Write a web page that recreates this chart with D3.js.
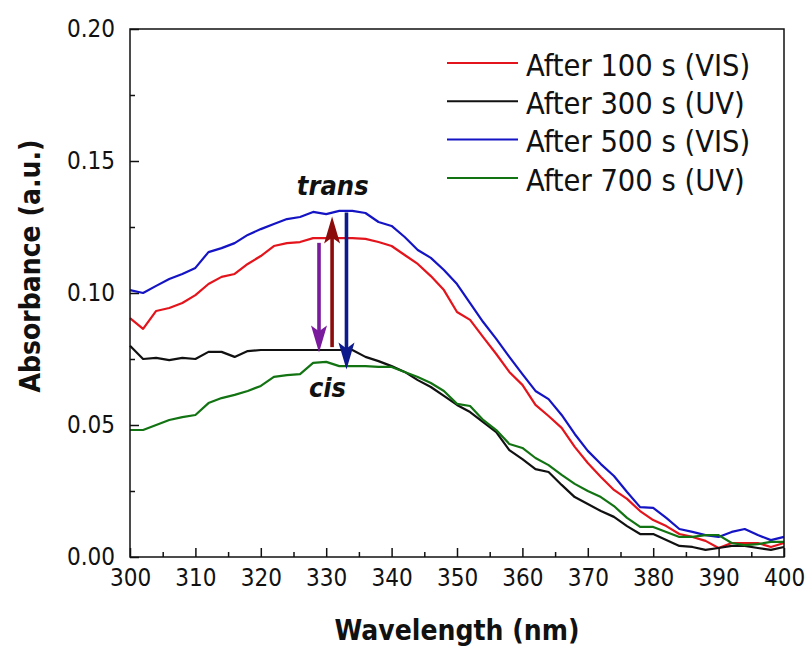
<!DOCTYPE html>
<html>
<head>
<meta charset="utf-8">
<script src="https://cdn.jsdelivr.net/npm/d3@7"></script>
<style>
  body { margin: 0; background: #fff; }
  svg { display: block; }
  text { font-family: "DejaVu Sans Condensed", "DejaVu Sans", sans-serif; font-stretch: condensed; fill: #111; }
</style>
</head>
<body>
<svg width="808" height="646"></svg>
<script>
// wavelength grid (nm)
const wavelengths = d3.range(300, 401, 2)

const vis100 = [
  0.0905, 0.0864, 0.0932, 0.0943, 0.0962, 0.0992, 0.1034, 0.1061, 0.1072, 0.1110,
  0.1140, 0.1178, 0.1189, 0.1193, 0.1208, 0.1208, 0.1208, 0.1208, 0.1205, 0.1193,
  0.1178, 0.1144, 0.1110, 0.1064, 0.1011, 0.0928, 0.0898, 0.0833, 0.0769, 0.0701,
  0.0652, 0.0576, 0.0534, 0.0489, 0.0417, 0.0356, 0.0303, 0.0254, 0.0220, 0.0174,
  0.0140, 0.0117, 0.0087, 0.0076, 0.0061, 0.0034, 0.0053, 0.0053, 0.0053, 0.0038,
  0.0053
]
const uv300 = [
  0.0800, 0.0750, 0.0754, 0.0746, 0.0754, 0.0750, 0.0777, 0.0777, 0.0758, 0.0780,
  0.0784, 0.0784, 0.0784, 0.0784, 0.0784, 0.0784, 0.0784, 0.0784, 0.0758, 0.0742,
  0.0723, 0.0701, 0.0670, 0.0644, 0.0610, 0.0576, 0.0549, 0.0511, 0.0473, 0.0405,
  0.0371, 0.0333, 0.0322, 0.0273, 0.0227, 0.0201, 0.0174, 0.0152, 0.0117, 0.0087,
  0.0087, 0.0064, 0.0042, 0.0038, 0.0027, 0.0034, 0.0042, 0.0042, 0.0034, 0.0027,
  0.0038
]
const vis500 = [
  0.1011, 0.1000, 0.1027, 0.1053, 0.1072, 0.1095, 0.1155, 0.1170, 0.1189, 0.1220,
  0.1242, 0.1261, 0.1280, 0.1288, 0.1307, 0.1299, 0.1311, 0.1311, 0.1303, 0.1269,
  0.1254, 0.1212, 0.1163, 0.1133, 0.1087, 0.1034, 0.0962, 0.0890, 0.0826, 0.0758,
  0.0693, 0.0629, 0.0598, 0.0538, 0.0466, 0.0402, 0.0352, 0.0307, 0.0246, 0.0189,
  0.0186, 0.0148, 0.0106, 0.0095, 0.0083, 0.0076, 0.0095, 0.0106, 0.0083, 0.0064,
  0.0076
]
const uv700 = [
  0.0481, 0.0481, 0.0500, 0.0519, 0.0530, 0.0538, 0.0583, 0.0602, 0.0614, 0.0629,
  0.0648, 0.0682, 0.0689, 0.0693, 0.0735, 0.0739, 0.0723, 0.0723, 0.0723, 0.0720,
  0.0720, 0.0701, 0.0682, 0.0659, 0.0629, 0.0580, 0.0572, 0.0519, 0.0481, 0.0428,
  0.0413, 0.0375, 0.0348, 0.0311, 0.0277, 0.0250, 0.0227, 0.0193, 0.0148, 0.0114,
  0.0114, 0.0095, 0.0076, 0.0076, 0.0083, 0.0083, 0.0053, 0.0045, 0.0049, 0.0057,
  0.0057
]

const seriesNames = ["After 100 s (VIS)", "After 300 s (UV)", "After 500 s (VIS)", "After 700 s (UV)"]
const seriesValues = [vis100, uv300, vis500, uv700]
const seriesColors = ["#e3141b", "#111111", "#1414c4", "#127312"]

// arrows: wavelength, start and end absorbance
const arrowX = [328.9, 330.9, 333.1]
const arrowFrom = [0.119, 0.0795, 0.1305]
const arrowTo = [0.0775, 0.1290, 0.0710]
const arrowColors = ["#7a1a9c", "#8c0c0c", "#0c1a8c"]

const xTicks = d3.range(300, 401, 10)
const xMinor = d3.range(305, 400, 10)
const yTicks = [0, 0.05, 0.10, 0.15, 0.20]
const yMinor = [0.025, 0.075, 0.125, 0.175]

const margin = {left: 130, top: 29, right: 24, bottom: 89}
const width = 808 - margin.left - margin.right
const height = 646 - margin.top - margin.bottom

const svg = d3.select("svg")
const g = svg.append("g").attr("transform", `translate(${margin.left},${margin.top})`)

const x = d3.scaleLinear().domain([300, 400]).range([0, width])
const y = d3.scaleLinear().domain([0, 0.2]).range([height, 0])

// minor ticks
g.append("g")
  .attr("transform", `translate(0,${height})`)
  .call(d3.axisBottom(x).tickValues(xMinor).tickSize(-5).tickFormat(""))
g.append("g")
  .call(d3.axisLeft(y).tickValues(yMinor).tickSize(-5).tickFormat(""))

// major ticks
g.append("g")
  .attr("class", "xaxis")
  .attr("transform", `translate(0,${height})`)
  .call(d3.axisBottom(x).tickValues(xTicks).tickSize(-9).tickPadding(12).tickFormat(d3.format("d")))
g.append("g")
  .attr("class", "yaxis")
  .call(d3.axisLeft(y).tickValues(yTicks).tickSize(-9).tickPadding(15).tickFormat(d3.format(".2f")))

g.selectAll(".domain").remove()
g.selectAll(".tick line").attr("stroke", "#111").attr("stroke-width", 1.5)
g.selectAll(".xaxis text, .yaxis text").attr("font-size", 24).attr("font-family", null).attr("fill", "#111")

// curves
const line = d3.line()
  .x((d, i) => x(wavelengths[i]))
  .y(d => y(d))

g.append("g")
  .selectAll("path")
  .data(seriesValues)
  .join("path")
  .attr("d", line)
  .attr("fill", "none")
  .attr("stroke", (d, i) => seriesColors[i])
  .attr("stroke-width", 2.2)
  .attr("stroke-linejoin", "round")

// frame
g.append("rect")
  .attr("width", width).attr("height", height)
  .attr("fill", "none").attr("stroke", "#111").attr("stroke-width", 1.5)

// arrows
const arrows = g.append("g")
arrowX.forEach((w, i) => {
  const ax = x(w), y0 = y(arrowFrom[i]), y1 = y(arrowTo[i])
  const dir = y1 > y0 ? 1 : -1
  const headLen = 27, headW = 8
  arrows.append("line")
    .attr("x1", ax).attr("x2", ax)
    .attr("y1", y0).attr("y2", y1 - dir * headLen * 0.6)
    .attr("stroke", arrowColors[i]).attr("stroke-width", 3.6)
  arrows.append("path")
    .attr("d", `M${ax},${y1} L${ax - headW},${y1 - dir * headLen} L${ax},${y1 - dir * headLen * 0.78} L${ax + headW},${y1 - dir * headLen} Z`)
    .attr("fill", arrowColors[i])
})

g.append("text")
  .attr("x", x(331)).attr("y", y(0.1372))
  .attr("text-anchor", "middle")
  .attr("font-size", 27).attr("font-weight", "bold").attr("font-style", "italic")
  .text("trans")
g.append("text")
  .attr("x", x(330.2)).attr("y", y(0.0606))
  .attr("text-anchor", "middle")
  .attr("font-size", 27).attr("font-weight", "bold").attr("font-style", "italic")
  .text("cis")

// legend
const legend = g.append("g").attr("transform", `translate(${447 - margin.left},${63 - margin.top})`)
const rows = legend.selectAll("g")
  .data(seriesNames)
  .join("g")
  .attr("transform", (d, i) => `translate(0,${i * 38.3})`)
rows.append("line")
  .attr("x1", 0).attr("x2", 71)
  .attr("stroke", (d, i) => seriesColors[i])
  .attr("stroke-width", 2)
rows.append("text")
  .attr("x", 79).attr("y", 2)
  .attr("dy", "0.35em")
  .attr("font-size", 30.5)
  .text(d => d)

// axis titles
svg.append("text")
  .attr("x", margin.left + width / 2).attr("y", 640)
  .attr("text-anchor", "middle")
  .attr("font-size", 28).attr("font-weight", "bold")
  .text("Wavelength (nm)")
svg.append("text")
  .attr("transform", "translate(40,266) rotate(-90)")
  .attr("text-anchor", "middle")
  .attr("font-size", 28).attr("font-weight", "bold")
  .text("Absorbance (a.u.)")
</script>
</body>
</html>
